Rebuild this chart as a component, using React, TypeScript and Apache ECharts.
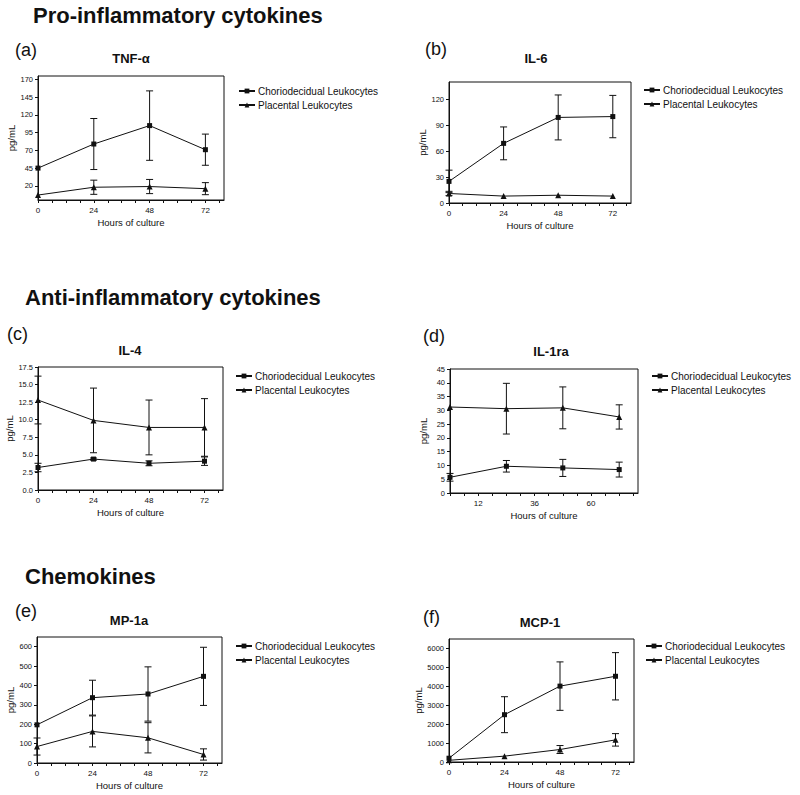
import React, { useEffect, useRef } from "react";
import * as echarts from "echarts";

const hours = [0, 24, 48, 72];
const seriesNames = ["Choriodecidual Leukocytes", "Placental Leukocytes"];

// (a) TNF-alpha
const tnfChorio = [45, 79, 105, 71];
const tnfChorioErr = [0, 36, 49, 22];
const tnfPlac = [7, 18, 19, 16];
const tnfPlacErr = [0, 10, 10, 8.5];
const tnfTicks = [20, 45, 70, 95, 120, 145, 170];

// (b) IL-6
const il6Chorio = [25, 69, 99, 100];
const il6ChorioErr = [13, 19, 26, 24.5];
const il6Plac = [11, 8, 9, 8];
const il6PlacErr = [2.5, 0, 0, 0];
const il6Ticks = [0, 30, 60, 90, 120];

// (c) IL-4
const il4Chorio = [3.2, 4.4, 3.8, 4.1];
const il4ChorioErr = [0.6, 0.15, 0.35, 0.6];
const il4Plac = [12.8, 9.9, 8.9, 8.9];
const il4PlacErr = [3.4, 4.6, 3.9, 4.1];
const il4Ticks = [0, 2.5, 5, 7.5, 10, 12.5, 15, 17.5];

// (d) IL-1ra
const il1raChorio = [5.7, 9.7, 9.1, 8.5];
const il1raChorioErr = [1.4, 2.1, 3.1, 2.7];
const il1raPlac = [31.2, 30.6, 30.9, 27.6];
const il1raPlacErr = [0, 9.2, 7.6, 4.4];
const il1raTicks = [0, 5, 10, 15, 20, 25, 30, 35, 40, 45];

// (e) MIP-1a
const mipChorio = [197, 337, 356, 447];
const mipChorioErr = [0, 90, 140, 150];
const mipPlac = [85, 163, 130, 44];
const mipPlacErr = [44, 80, 78, 29];
const mipTicks = [0, 100, 200, 300, 400, 500, 600];

// (f) MCP-1
const mcpChorio = [200, 2500, 4010, 4530];
const mcpChorioErr = [0, 950, 1280, 1250];
const mcpPlac = [90, 310, 660, 1170];
const mcpPlacErr = [0, 0, 210, 330];
const mcpTicks = [0, 1000, 2000, 3000, 4000, 5000, 6000];

const xLabelsStd = [0, 24, 48, 72];
const xLabelsAlt = [12, 36, 60];
const xMinorTicks = [0, 6, 12, 18, 24, 30, 36, 42, 48, 54, 60, 66, 72, 78];

const FONT = "'Liberation Sans', Arial, Helvetica, sans-serif";
const INK = "#111";

type Panel = {
  grid: { left: number; top: number; width: number; height: number };
  yMax: number;
  yTicks: number[];
  yFmt?: (v: number) => string;
  xLabels: number[];
  chorio: number[];
  chorioErr: number[];
  plac: number[];
  placErr: number[];
  legend: { left: number; top: number };
  label: { text: string; x: number; y: number };
  title: { text: string; x: number; y: number };
};

const panels: Panel[] = [
  {
    grid: { left: 38, top: 76, width: 186, height: 124 },
    yMax: 175, yTicks: tnfTicks, xLabels: xLabelsStd,
    chorio: tnfChorio, chorioErr: tnfChorioErr, plac: tnfPlac, placErr: tnfPlacErr,
    legend: { left: 238, top: 86 },
    label: { text: "(a)", x: 15, y: 50 },
    title: { text: "TNF-α", x: 131, y: 58 },
  },
  {
    grid: { left: 449, top: 82, width: 182, height: 121 },
    yMax: 140, yTicks: il6Ticks, xLabels: xLabelsStd,
    chorio: il6Chorio, chorioErr: il6ChorioErr, plac: il6Plac, placErr: il6PlacErr,
    legend: { left: 643, top: 85 },
    label: { text: "(b)", x: 425, y: 49 },
    title: { text: "IL-6", x: 536, y: 58 },
  },
  {
    grid: { left: 38, top: 367, width: 185, height: 123 },
    yMax: 17.5, yTicks: il4Ticks, yFmt: (v) => v.toFixed(1), xLabels: xLabelsStd,
    chorio: il4Chorio, chorioErr: il4ChorioErr, plac: il4Plac, placErr: il4PlacErr,
    legend: { left: 235, top: 371 },
    label: { text: "(c)", x: 7, y: 334 },
    title: { text: "IL-4", x: 130, y: 350 },
  },
  {
    grid: { left: 450, top: 369, width: 188, height: 124 },
    yMax: 45, yTicks: il1raTicks, xLabels: xLabelsAlt,
    chorio: il1raChorio, chorioErr: il1raChorioErr, plac: il1raPlac, placErr: il1raPlacErr,
    legend: { left: 651, top: 371 },
    label: { text: "(d)", x: 423, y: 336 },
    title: { text: "IL-1ra", x: 551, y: 351 },
  },
  {
    grid: { left: 37, top: 637, width: 185, height: 126 },
    yMax: 650, yTicks: mipTicks, xLabels: xLabelsStd,
    chorio: mipChorio, chorioErr: mipChorioErr, plac: mipPlac, placErr: mipPlacErr,
    legend: { left: 235, top: 641 },
    label: { text: "(e)", x: 15, y: 611 },
    title: { text: "MP-1a", x: 129, y: 620 },
  },
  {
    grid: { left: 449, top: 639, width: 185, height: 123 },
    yMax: 6500, yTicks: mcpTicks, xLabels: xLabelsStd,
    chorio: mcpChorio, chorioErr: mcpChorioErr, plac: mcpPlac, placErr: mcpPlacErr,
    legend: { left: 645, top: 641 },
    label: { text: "(f)", x: 423, y: 617 },
    title: { text: "MCP-1", x: 540, y: 622 },
  },
];

const headings = [
  { text: "Pro-inflammatory cytokines", x: 33, y: 15 },
  { text: "Anti-inflammatory cytokines", x: 25, y: 297 },
  { text: "Chemokines", x: 25, y: 576 },
];

function errData(vals: number[], errs: number[]) {
  return hours
    .map((h, i) => [h, vals[i] - errs[i], vals[i] + errs[i]])
    .filter((d, i) => errs[i] > 0);
}

const lineStyle = { stroke: INK, lineWidth: 1 };

function renderErr(params: any, api: any) {
  const x = api.value(0);
  const lo = api.value(1);
  const hi = api.value(2);
  const top = api.coord([x, hi]);
  const bot = api.coord([x, lo]);
  const w = 3.5;
  return {
    type: "group",
    children: [
      { type: "line", shape: { x1: top[0], y1: top[1], x2: bot[0], y2: bot[1] }, style: lineStyle },
      { type: "line", shape: { x1: top[0] - w, y1: top[1], x2: top[0] + w, y2: top[1] }, style: lineStyle },
      { type: "line", shape: { x1: bot[0] - w, y1: bot[1], x2: bot[0] + w, y2: bot[1] }, style: lineStyle },
    ],
  };
}

function buildOption() {
  const grid: any[] = [];
  const xAxis: any[] = [];
  const yAxis: any[] = [];
  const series: any[] = [];
  const legend: any[] = [];
  const graphic: any[] = [];

  panels.forEach((p, i) => {
    grid.push({
      ...p.grid,
      show: true,
      borderColor: INK,
      borderWidth: 1,
      backgroundColor: "transparent",
      containLabel: false,
    });
    xAxis.push({
      gridIndex: i,
      type: "value",
      min: 0,
      max: 80,
      name: "Hours of culture",
      nameLocation: "middle",
      nameGap: 17,
      nameTextStyle: { fontSize: 9.5, color: INK, fontFamily: FONT },
      axisLine: { show: true, onZero: false, lineStyle: { color: INK, width: 1 } },
      axisTick: { show: true, customValues: xMinorTicks, length: 3, lineStyle: { color: INK, width: 1 } },
      axisLabel: { customValues: p.xLabels, fontSize: 8, color: INK, fontFamily: FONT, margin: 6 },
      splitLine: { show: false },
    });
    yAxis.push({
      gridIndex: i,
      type: "value",
      min: 0,
      max: p.yMax,
      name: "pg/mL",
      nameLocation: "middle",
      nameRotate: 90,
      nameGap: 22,
      nameTextStyle: { fontSize: 9.5, color: INK, fontFamily: FONT },
      axisLine: { show: true, onZero: false, lineStyle: { color: INK, width: 1 } },
      axisTick: { show: true, customValues: p.yTicks, length: 3, lineStyle: { color: INK, width: 1 } },
      axisLabel: {
        customValues: p.yTicks,
        fontSize: 7.5,
        color: INK,
        fontFamily: FONT,
        margin: 5,
        formatter: p.yFmt ? (v: number) => p.yFmt!(v) : (v: number) => String(v),
      },
      splitLine: { show: false },
    });

    series.push({
      type: "custom",
      name: "errChorio" + i,
      xAxisIndex: i,
      yAxisIndex: i,
      renderItem: renderErr,
      encode: { x: 0, y: [1, 2] },
      data: errData(p.chorio, p.chorioErr),
      silent: true,
      z: 3,
    });
    series.push({
      type: "custom",
      name: "errPlac" + i,
      xAxisIndex: i,
      yAxisIndex: i,
      renderItem: renderErr,
      encode: { x: 0, y: [1, 2] },
      data: errData(p.plac, p.placErr),
      silent: true,
      z: 3,
    });
    series.push({
      type: "line",
      name: seriesNames[0],
      xAxisIndex: i,
      yAxisIndex: i,
      data: hours.map((h, k) => [h, p.chorio[k]]),
      symbol: "rect",
      symbolSize: 5,
      showSymbol: true,
      lineStyle: { color: INK, width: 1 },
      itemStyle: { color: INK },
      z: 4,
    });
    series.push({
      type: "line",
      name: seriesNames[1],
      xAxisIndex: i,
      yAxisIndex: i,
      data: hours.map((h, k) => [h, p.plac[k]]),
      symbol: "triangle",
      symbolSize: 6,
      showSymbol: true,
      lineStyle: { color: INK, width: 1 },
      itemStyle: { color: INK },
      z: 4,
    });

    legend.push({
      data: seriesNames,
      orient: "vertical",
      left: p.legend.left,
      top: p.legend.top,
      padding: 0,
      itemWidth: 16,
      itemHeight: 6,
      itemGap: 4,
      selectedMode: false,
      textStyle: { fontSize: 10, color: INK, fontFamily: FONT, lineHeight: 10, padding: [0, 0, 0, -2] },
    });

    graphic.push({
      type: "text",
      x: p.label.x,
      y: p.label.y,
      style: {
        text: p.label.text,
        font: `18px ${FONT}`,
        fill: INK,
        textAlign: "left",
        textVerticalAlign: "middle",
      },
    });
    graphic.push({
      type: "text",
      x: p.title.x,
      y: p.title.y,
      style: {
        text: p.title.text,
        font: `bold 13px ${FONT}`,
        fill: INK,
        textAlign: "center",
        textVerticalAlign: "middle",
      },
    });
  });

  headings.forEach((h) => {
    graphic.push({
      type: "text",
      x: h.x,
      y: h.y,
      style: {
        text: h.text,
        font: `bold 22px ${FONT}`,
        fill: INK,
        textAlign: "left",
        textVerticalAlign: "middle",
      },
    });
  });

  return {
    animation: false,
    backgroundColor: "#fff",
    textStyle: { fontFamily: FONT },
    grid,
    xAxis,
    yAxis,
    series,
    legend,
    graphic,
  };
}

export default function App() {
  const ref = useRef<HTMLDivElement>(null);
  useEffect(() => {
    if (!ref.current) return;
    const chart = echarts.init(ref.current, undefined, { renderer: "svg" });
    chart.setOption(buildOption() as any);
    return () => chart.dispose();
  }, []);
  return (
    <div
      ref={ref}
      style={{ position: "fixed", left: 0, top: 0, width: 800, height: 795, background: "#fff" }}
    />
  );
}
